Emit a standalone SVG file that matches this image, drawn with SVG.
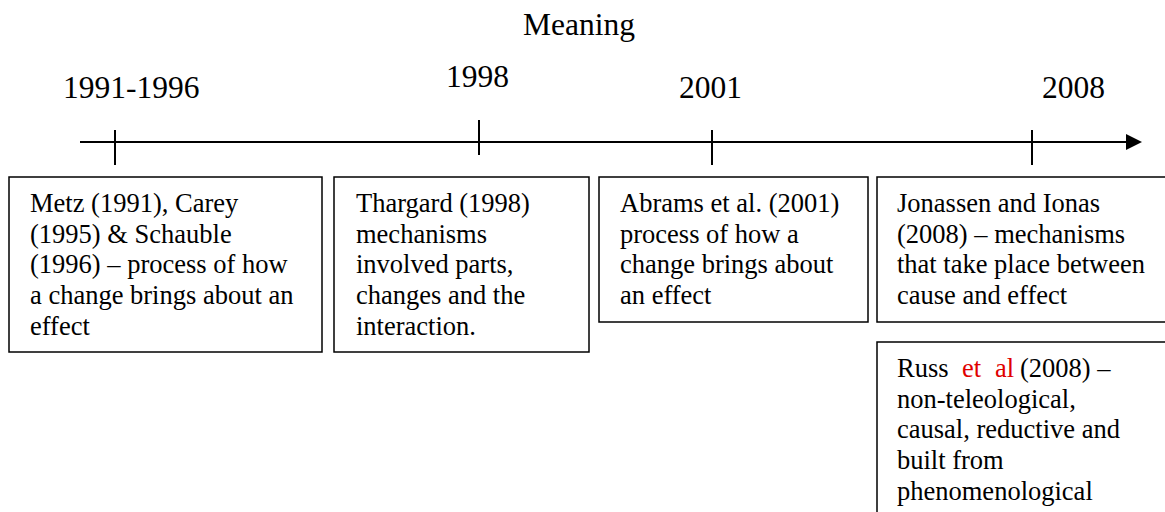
<svg xmlns="http://www.w3.org/2000/svg" width="1165" height="512" viewBox="0 0 1165 512">
<defs>
<style>
.t{font-family:"Liberation Serif","Times New Roman",serif;fill:#000}
.big{font-size:31.5px}
.bx{font-size:26.5px}
.box{fill:#fff;stroke:#000;stroke-width:1.5}
.ax{stroke:#000;stroke-width:2;fill:none}
.red{fill:#e00000}
</style>
</defs>
<rect width="1165" height="512" fill="#fff"/>
<g id="titles">
<text class="t big" x="579" y="35" text-anchor="middle">Meaning</text>
<text class="t big" x="63" y="98">1991-1996</text>
<text class="t big" x="446" y="87">1998</text>
<text class="t big" x="679" y="98">2001</text>
<text class="t big" x="1042" y="98">2008</text>
</g>
<g id="connectors">
<line class="ax" x1="80" y1="142" x2="1126" y2="142"/>
<path d="M1126,134 L1142,142 L1126,150 Z" fill="#000"/>
<line class="ax" x1="115" y1="130" x2="115" y2="165"/>
<line class="ax" x1="479" y1="120" x2="479" y2="155"/>
<line class="ax" x1="712" y1="130" x2="712" y2="165"/>
<line class="ax" x1="1032" y1="130" x2="1032" y2="165"/>
</g>
<g id="box1">
<rect class="box" x="9" y="177" width="313" height="175"/>
<text class="t bx" x="30" y="212">Metz (1991), Carey</text>
<text class="t bx" x="30" y="242.7">(1995) &amp; Schauble</text>
<text class="t bx" x="30" y="273.4">(1996) – process of how</text>
<text class="t bx" x="30" y="304.1">a change brings about an</text>
<text class="t bx" x="30" y="334.8">effect</text>
</g>
<g id="box2">
<rect class="box" x="334" y="177" width="255" height="175"/>
<text class="t bx" x="356" y="212">Thargard (1998)</text>
<text class="t bx" x="356" y="242.7">mechanisms</text>
<text class="t bx" x="356" y="273.4">involved parts,</text>
<text class="t bx" x="356" y="304.1">changes and the</text>
<text class="t bx" x="356" y="334.8">interaction.</text>
</g>
<g id="box3">
<rect class="box" x="599" y="177" width="269" height="145"/>
<text class="t bx" x="620" y="212">Abrams et al. (2001)</text>
<text class="t bx" x="620" y="242.7">process of how a</text>
<text class="t bx" x="620" y="273.4">change brings about</text>
<text class="t bx" x="620" y="304.1">an effect</text>
</g>
<g id="box4">
<rect class="box" x="877" y="177" width="300" height="145"/>
<text class="t bx" x="897" y="212">Jonassen and Ionas</text>
<text class="t bx" x="897" y="242.7">(2008) – mechanisms</text>
<text class="t bx" x="897" y="273.4">that take place between</text>
<text class="t bx" x="897" y="304.1">cause and effect</text>
</g>
<g id="box5">
<rect class="box" x="877" y="342" width="300" height="190"/>
<text class="t bx" x="897" y="377">Russ<tspan class="red" x="962">et</tspan><tspan class="red" x="995">al</tspan><tspan x="1020">(2008) –</tspan></text>
<text class="t bx" x="897" y="407.7">non-teleological,</text>
<text class="t bx" x="897" y="438.4">causal, reductive and</text>
<text class="t bx" x="897" y="469.1">built from</text>
<text class="t bx" x="897" y="499.8">phenomenological</text>
</g>
</svg>
